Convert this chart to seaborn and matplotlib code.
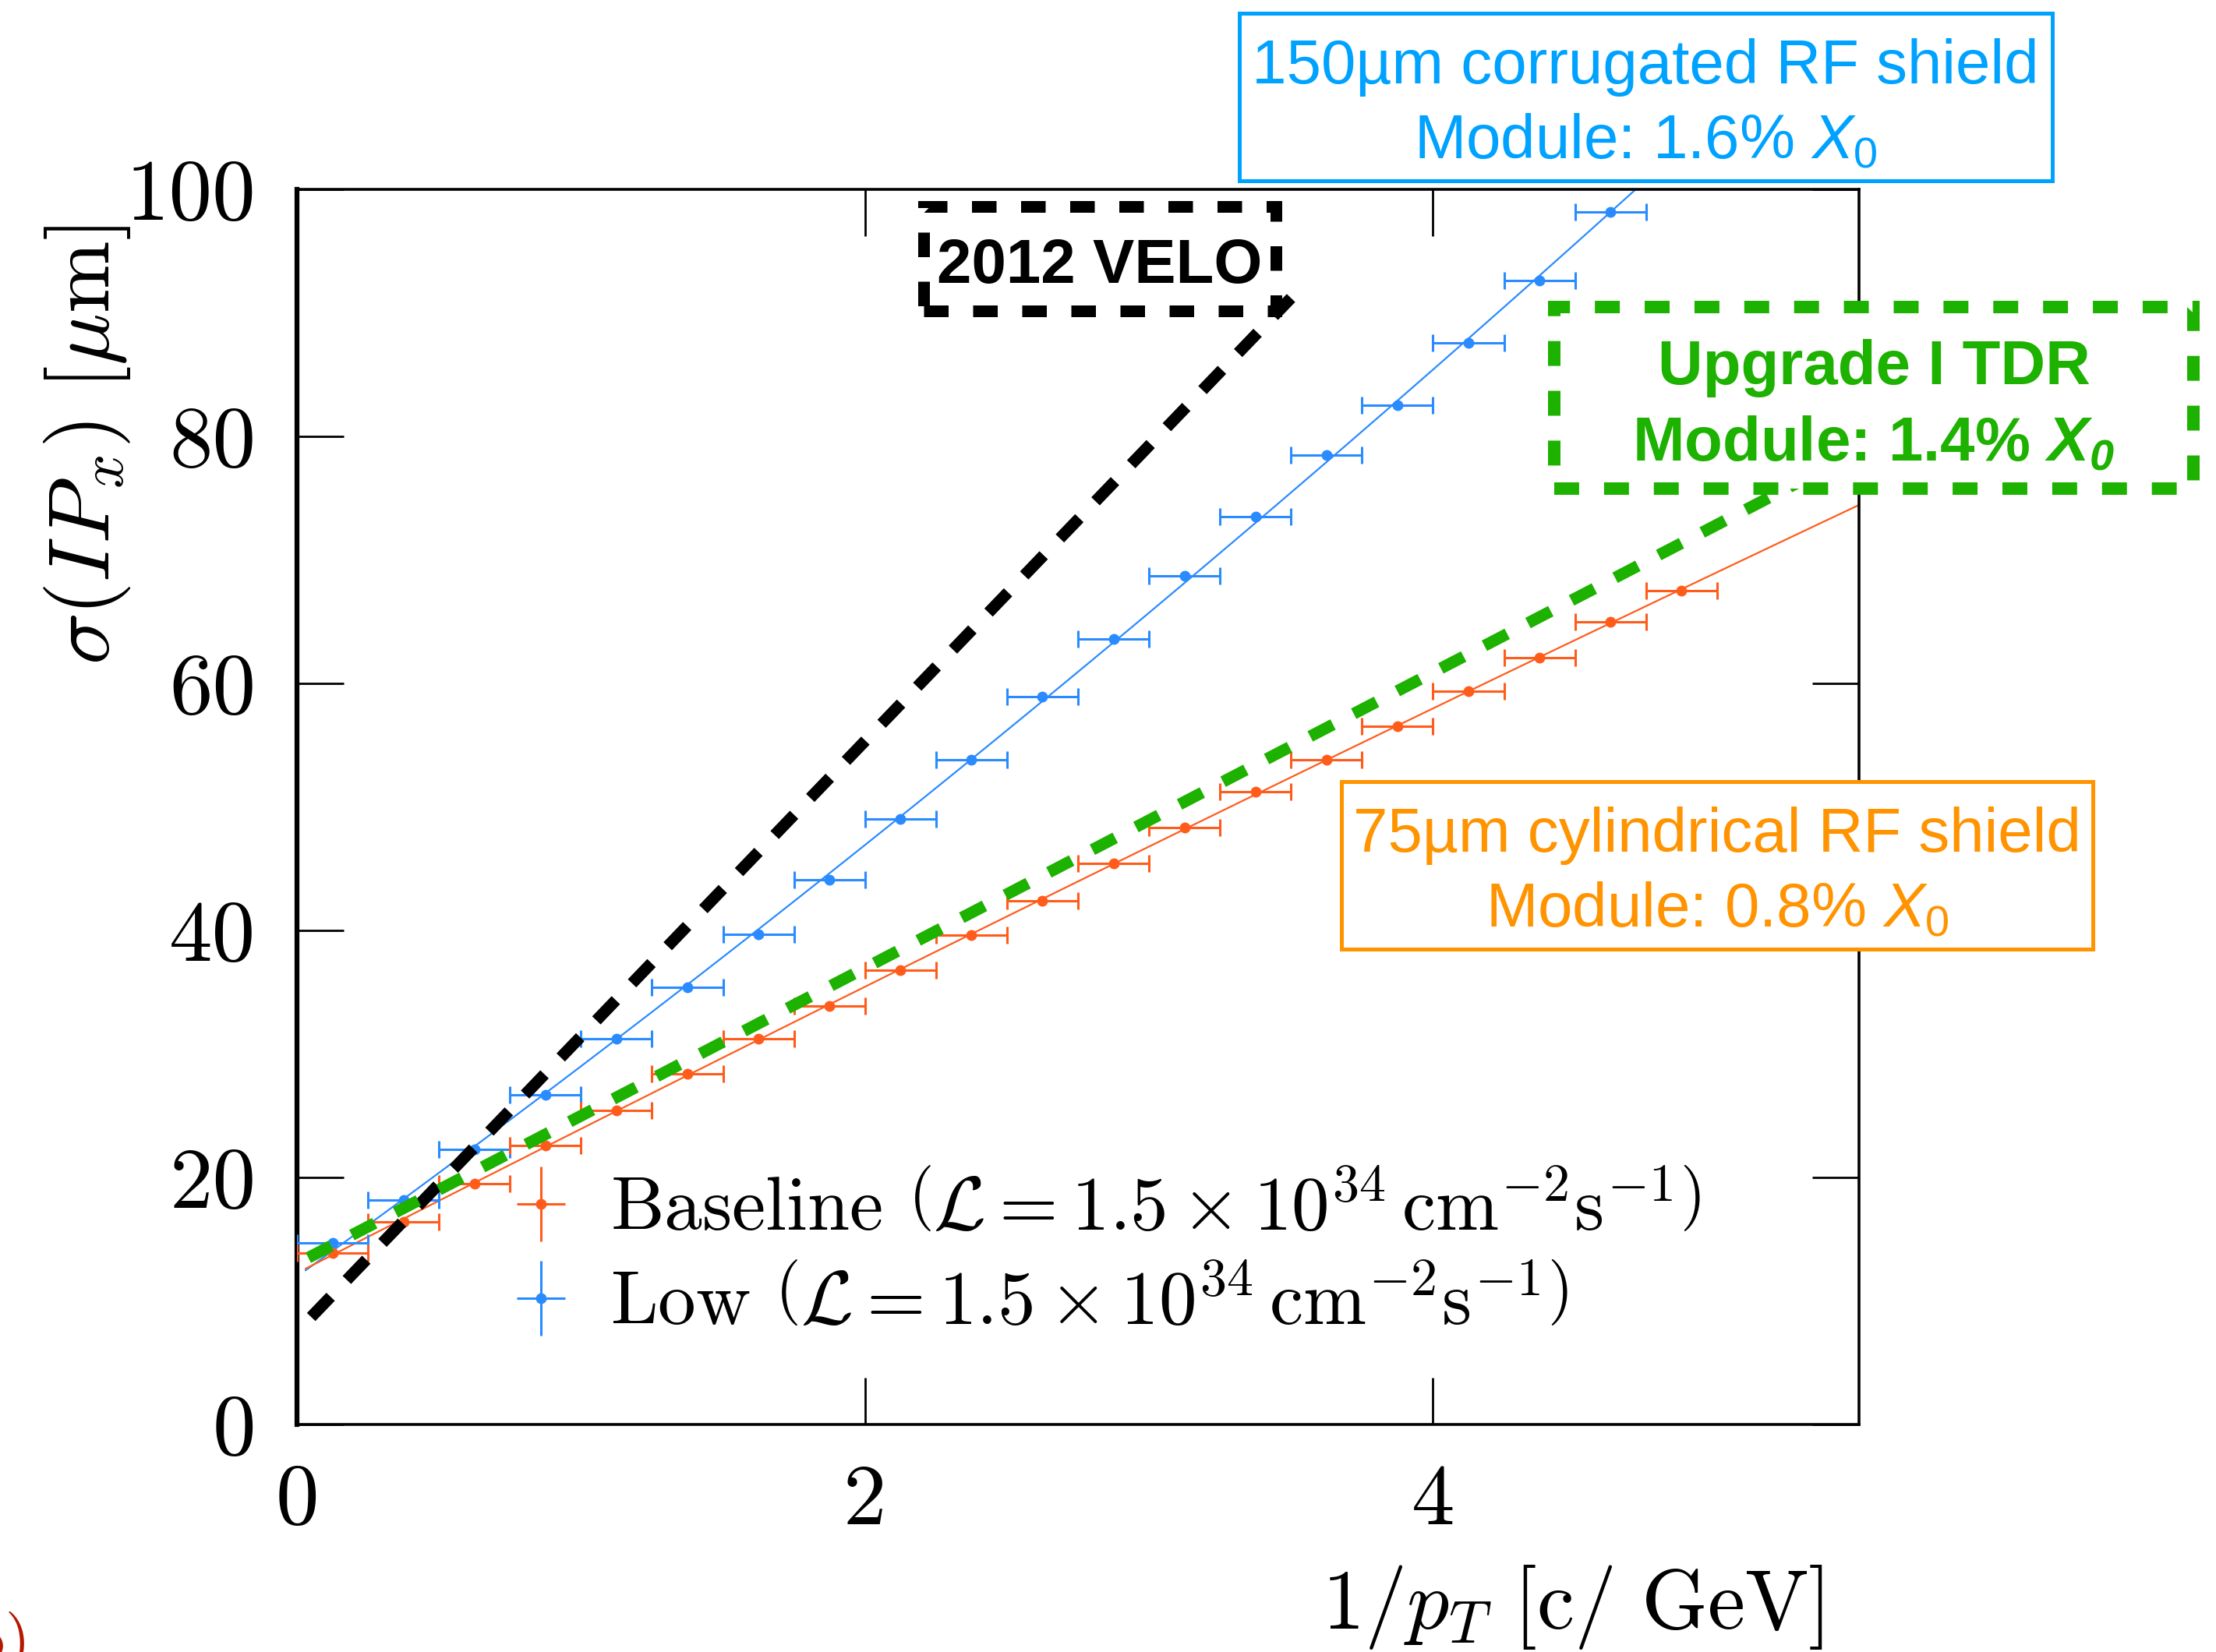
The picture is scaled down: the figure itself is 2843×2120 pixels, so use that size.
import numpy as np
import pandas as pd
import matplotlib
matplotlib.use("Agg")
import matplotlib.pyplot as plt
import seaborn as sns
from matplotlib.lines import Line2D
from matplotlib.patches import Rectangle
from matplotlib.legend_handler import HandlerTuple
from matplotlib.font_manager import FontProperties

# ---------------- data ----------------
low_x = [0.125, 0.375, 0.625, 0.875, 1.125, 1.375, 1.625, 1.875, 2.125, 2.375,
         2.625, 2.875, 3.125, 3.375, 3.625, 3.875, 4.125, 4.375, 4.625]
low_y = [14.7, 18.2, 22.3, 26.7, 31.2, 35.4, 39.7, 44.1, 49.0, 53.8,
         58.9, 63.6, 68.7, 73.5, 78.5, 82.5, 87.6, 92.6, 98.2]
base_x = [0.125, 0.375, 0.625, 0.875, 1.125, 1.375, 1.625, 1.875, 2.125, 2.375,
          2.625, 2.875, 3.125, 3.375, 3.625, 3.875, 4.125, 4.375, 4.625, 4.875]
base_y = [13.9, 16.4, 19.5, 22.6, 25.4, 28.4, 31.2, 33.9, 36.8, 39.6,
          42.4, 45.4, 48.3, 51.2, 53.8, 56.5, 59.4, 62.1, 65.0, 67.5]
bin_half_width = 0.125

velo_x = [0.05, 3.50]     # 2012 VELO
velo_y = [8.7, 91.2]
tdr_x = [0.04, 5.28]      # Upgrade I TDR
tdr_y = [13.5, 76.2]

x_ticks = [0, 2, 4]
y_ticks = [0, 20, 40, 60, 80, 100]

label_base = r'Baseline $\left(\mathcal{L} = 1.5 \times 10^{34}\,\mathrm{cm}^{-2}\mathrm{s}^{-1}\right)$'
label_low = r'Low $\left(\mathcal{L} = 1.5 \times 10^{34}\,\mathrm{cm}^{-2}\mathrm{s}^{-1}\right)$'

# ---------------- style ----------------
sns.set_theme(style="ticks")
plt.rcParams.update({
    "font.family": ["cmr10"],
    "axes.unicode_minus": False,
    "axes.formatter.use_mathtext": True,
    "mathtext.fontset": "custom",
    "mathtext.rm": "Liberation Sans",
    "mathtext.it": "Liberation Sans:italic",
    "mathtext.bf": "Liberation Sans:bold:italic",
    "text.color": "black",
    "axes.labelcolor": "black",
    "xtick.color": "black",
    "ytick.color": "black",
    "axes.edgecolor": "black",
})

C_BLUE = "#2A8BFF"
C_ORANGE = "#FF5C1C"
C_BOX_BLUE = "#00A2FF"
C_BOX_ORANGE = "#FF9300"
C_GREEN = "#1DB100"

W, H = 2843, 2120
fig = plt.figure(figsize=(W / 100, H / 100), dpi=100)
ax = fig.add_axes([381 / W, 1 - 1828 / H, 2004 / W, 1585 / H])

# fit lines (quadratic regression through the points)
ax.set_xlim(0.03, 5.5)
sns.regplot(x=low_x, y=low_y, order=2, ci=None, scatter=False, truncate=False,
            ax=ax, line_kws=dict(color=C_BLUE, lw=1.6, zorder=2))
sns.regplot(x=base_x, y=base_y, order=2, ci=None, scatter=False, truncate=False,
            ax=ax, line_kws=dict(color=C_ORANGE, lw=1.6, zorder=2))

# data points with bin-width error bars
ax.errorbar(low_x, low_y, xerr=bin_half_width, fmt="o", ms=9, color=C_BLUE,
            elinewidth=2.2, capsize=8, capthick=2.2, zorder=3)
ax.errorbar(base_x, base_y, xerr=bin_half_width, fmt="o", ms=9, color=C_ORANGE,
            elinewidth=2.2, capsize=8, capthick=2.2, zorder=3)

# reference curves
sns.lineplot(x=velo_x, y=velo_y, ax=ax, color="black", lw=10.8,
             linestyle=(0, (2.4, 2.0)), dash_capstyle="butt", zorder=4)
sns.lineplot(x=tdr_x, y=tdr_y, ax=ax, color=C_GREEN, lw=10.8,
             linestyle=(0, (2.2, 2.0)), dash_capstyle="butt", zorder=4)

ax.set_xlim(0, 5.5)
ax.set_ylim(0, 100)
ax.set_xticks(x_ticks)
ax.set_yticks(y_ticks)
ax.set_xticklabels([str(t) for t in x_ticks])
ax.set_yticklabels([str(t) for t in y_ticks])
ax.tick_params(direction="in", length=43, width=2, top=True, right=True,
               labelsize=80, pad=36)
ax.tick_params(axis="y", pad=38)
ax.spines["left"].set_linewidth(4.5)
for s in ["top", "right", "bottom"]:
    ax.spines[s].set_linewidth(2.6)

ax.set_xlabel(r'$1/p_T\ [\mathrm{c}/\ \mathrm{GeV}]$', fontsize=78, math_fontfamily="cm")
ax.xaxis.label.set_ha("right")
ax.xaxis.label.set_va("baseline")
ax.xaxis.set_label_coords((2339 - 381) / 2004, (1828 - 2090) / 1585)
ax.set_ylabel(r'$\sigma(IP_x)\ [\mu\mathrm{m}]$', fontsize=80, math_fontfamily="cm")
ax.yaxis.label.set_ha("center")
ax.yaxis.label.set_va("center")
ax.yaxis.set_label_coords((112 - 381) / 2004, (1828 - 571) / 1585)

# legend
h_base = (Line2D([], [], marker="|", ms=69, mew=2.2, color=C_ORANGE, ls=""),
          Line2D([], [], marker="_", ms=45, mew=2.2, color=C_ORANGE, ls=""),
          Line2D([], [], marker="o", ms=9, color=C_ORANGE, ls=""))
h_low = (Line2D([], [], marker="|", ms=69, mew=2.2, color=C_BLUE, ls=""),
         Line2D([], [], marker="_", ms=45, mew=2.2, color=C_BLUE, ls=""),
         Line2D([], [], marker="o", ms=9, color=C_BLUE, ls=""))
ax.legend([h_base, h_low], [label_base, label_low],
          handler_map={tuple: HandlerTuple(ndivide=1)},
          prop=FontProperties(family="cmr10", size=70, math_fontfamily="cm"),
          loc="center left", bbox_to_anchor=((655 - 381) / 2004, (1828 - 1614) / 1585),
          frameon=False, borderpad=0, borderaxespad=0, handlelength=0.8,
          handletextpad=0.52, labelspacing=0.32)


# annotation boxes (figure coordinates, pixel layout)
def box(x0, y0, x1, y1, color, lw, ls):
    r = Rectangle((x0 / W, 1 - y1 / H), (x1 - x0) / W, (y1 - y0) / H,
                  transform=fig.transFigure, facecolor="white", edgecolor=color,
                  lw=lw, linestyle=ls, zorder=5)
    fig.add_artist(r)


def txt(x, y, s, color, weight="normal"):
    fig.text(x / W, 1 - y / H, s, ha="center", va="baseline", fontsize=57.5,
             family="Liberation Sans", color=color, weight=weight, zorder=6)


box(1590, 17, 2633, 232, C_BOX_BLUE, 3.6, "-")
txt(2111, 107, "150µm corrugated RF shield", C_BOX_BLUE)
txt(2111, 203, r"Module: 1.6% $X_{\mathit{0}}$", C_BOX_BLUE)

box(1721, 1003, 2685, 1218, C_BOX_ORANGE, 3.6, "-")
txt(2203, 1093, "75µm cylindrical RF shield", C_BOX_ORANGE)
txt(2203, 1189, r"Module: 0.8% $X_{\mathit{0}}$", C_BOX_ORANGE)

box(1994, 394, 2814, 627, C_GREEN, 11.5, (0, (2, 2)))
txt(2404, 493, "Upgrade I TDR", C_GREEN, "bold")
txt(2404, 591, r"Module: 1.4% $\mathbf{X_{0}}$", C_GREEN, "bold")

box(1185, 265, 1637, 399, "black", 10.8, (0, (2.1, 2.1)))
txt(1411, 363, "2012 VELO", "black", "bold")

# cropped panel label at bottom-left (cut off by the edge, as in the reference)
fig.text(40 / W, 1 - 2130 / H, "(b)", ha="right", va="baseline", fontsize=60,
         family="cmr10", color="#B51700")

fig.savefig("out.png", dpi=100)
